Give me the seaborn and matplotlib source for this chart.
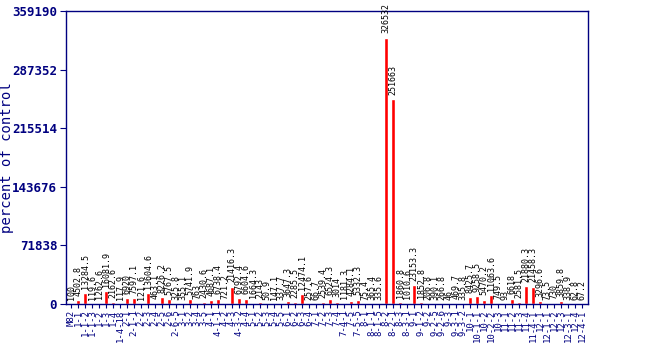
import matplotlib
matplotlib.use("Agg")
import matplotlib.pyplot as plt
import seaborn as sns
import pandas as pd

# Introgression lines (plus the M82 parent) and their expression levels
lines = [
    "M82", "1-1", "1-1-2", "1-1-3", "1-2", "1-3", "1-4", "1-4-18",
    "2-1", "2-1-1", "2-2", "2-3", "2-4", "2-5", "2-6", "2-6-5",
    "3-1", "3-2", "3-4", "3-5", "4-1", "4-1-1", "4-2", "4-3", "4-3-2", "4-4",
    "5-1", "5-2", "5-3", "5-4", "5-5", "6-1", "6-2", "6-3", "6-4",
    "7-1", "7-2", "7-3", "7-4", "7-4-1", "7-5", "7-5-5",
    "8-1", "8-1-1", "8-1-5", "8-2", "8-2-1", "8-3", "8-3-1",
    "9-1", "9-1-2", "9-2", "9-2-5", "9-2-6", "9-3", "9-3-1", "9-3-2",
    "10-1", "10-1-1", "10-2", "10-2-2", "10-3",
    "11-1", "11-2", "11-3", "11-4", "11-4-1",
    "12-1", "12-1-1", "12-2", "12-3", "12-3-1", "12-4", "12-4-1",
]
values = [
    100, 4502.8, 13284.5, 119.6, 1262.6, 16081.9, 2162.6, 117.9,
    6920, 7597.1, 121.6, 13604.6, 463.1, 8226.2, 5767.5, 325.8,
    355.1, 5741.9, 763, 2430.6, 4687.1, 6738.4, 721.2, 21416.3, 6792.4, 6604.6,
    1664.3, 2143, 50.9, 147.1, 337.7, 3647.3, 2285.5, 12474.1, 257.6,
    66.7, 2539.4, 6524.3, 3014, 1181.3, 4284.1, 5332.3,
    75.4, 365.4, 335.6, 326532, 251663, 1860.8, 1010.6,
    23153.3, 1852.8, 206.8, 390.1, 266.8, 46, 469.7, 335.8,
    8425.7, 9258.5, 5470.2, 11063.6, 749.5,
    93, 6618, 2581.5, 21880.3, 21458.3,
    3296.6, 73.5, 730, 3859.8, 338.9, 62.8, 67.2,
]
yticks = [0, 71838, 143676, 215514, 287352, 359190]

NAVY = "#000080"

sns.set_style("ticks")
plt.rcParams["font.family"] = ["DejaVu Sans Mono"]

fig = plt.figure(figsize=(6.5, 3.5), dpi=100)
ax = fig.add_axes([0.1008, 0.1314, 0.804, 0.8372])

df = pd.DataFrame({"line": lines, "value": values})
sns.barplot(data=df, x="line", y="value", color="#ff0000", saturation=1,
            width=0.6, errorbar=None, ax=ax)


def fmt(v):
    return f"{v:.1f}".rstrip("0").rstrip(".")


ax.bar_label(ax.containers[0], labels=[fmt(v) for v in values],
             rotation=90, padding=3, fontsize=6, color="black")

ax.set_xlim(-0.8, len(lines) - 0.15)
ax.set_ylim(yticks[0], yticks[-1])
ax.set_yticks(yticks)
ax.set_yticklabels([str(t) for t in yticks], fontsize=9, fontweight="bold",
                   color=NAVY)
ax.tick_params(axis="y", length=4, color=NAVY, pad=2)
ax.tick_params(axis="x", labelrotation=90, labelsize=6.5, labelcolor=NAVY,
               length=3, color=NAVY, pad=1)

for side in ["left", "right", "top", "bottom"]:
    ax.spines[side].set_visible(True)
    ax.spines[side].set_color(NAVY)
    ax.spines[side].set_linewidth(1)

ax.set_xlabel("")
ax.set_ylabel("percent of control", fontsize=10, color=NAVY)
ax.yaxis.set_label_coords(-0.098, 0.5)

fig.savefig("out.png", dpi=100)
